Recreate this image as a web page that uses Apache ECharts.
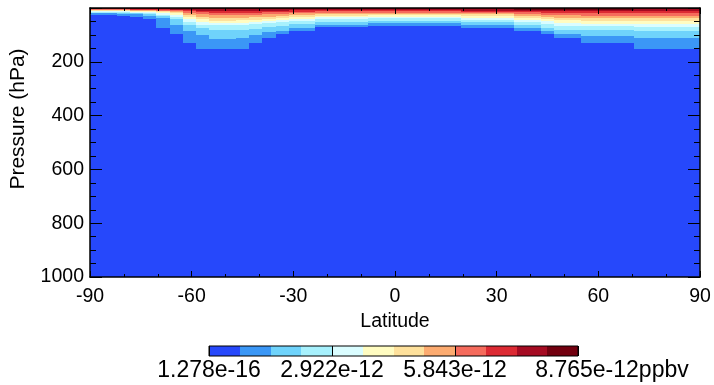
<!DOCTYPE html>
<html><head><meta charset="utf-8">
<script src="https://cdn.jsdelivr.net/npm/echarts@6/dist/echarts.min.js"></script>
<style>html,body{margin:0;padding:0;background:#fff}#c{width:714px;height:385px}</style>
</head><body><div id="c"></div>
<script>
// ---- data ----
const latMin = -90, latMax = 90, nCols = 46;
const pressureMax = 1000;
const levelColors = ['#2648fb','#3b97f6','#6fd3fb','#a7f1fd','#dafdff','#fffcc1','#fee19c','#fcab70','#f56b5c','#dc2a33','#a50b22','#72000f'];
const colorbarLabels = ['1.278e-16','2.922e-12','5.843e-12','8.765e-12ppbv'];
// bottom pressure (hPa) of the region where the field reaches level k, per latitude column
const depth1  = [26,26,30,32,42,73,98,129,152,152,152,152,129,110,98,84,84,72,72,72,72,66,66,66,66,66,66,66,73,73,73,73,85,85,98,110,110,129,129,129,129,152,152,152,152,152];
const depth2  = [20,20,22,24,30,38,63,84,101,116,116,110,101,90,84,73,73,63,63,63,63,57,57,57,57,57,57,57,63,63,63,63,75,75,85,95,95,105,105,105,105,110,110,110,110,110];
const depth3  = [17,17,18,20,24,30,42,63,73,82,82,82,78,70,66,60,60,52,52,52,52,47,47,47,47,47,47,47,53,53,53,53,63,63,73,80,80,82,82,82,82,84,84,84,84,84];
const depth4  = [15,15,15,17,20,26,32,51,63,63,63,63,60,56,53,48,48,42,42,42,42,38,38,38,38,38,38,38,44,44,44,44,53,53,60,66,66,68,68,68,68,69,69,69,69,69];
const depth5  = [13,13,13,14,16,20,26,42,53,55,55,55,52,48,45,40,40,35,35,35,35,32,32,32,32,32,32,32,36,36,36,36,44,44,50,55,55,58,58,58,58,61,61,61,61,61];
const depth6  = [11,11,11,12,13,15,20,32,42,47,47,46,44,40,38,33,33,29,29,29,29,27,27,27,27,27,27,27,30,30,30,30,36,36,41,45,45,47,47,47,47,47,47,47,47,47];
const depth7  = [9,9,9,10,11,12,15,26,32,38,38,37,35,32,30,27,27,24,24,24,24,22,22,22,22,22,22,22,24,24,24,24,29,29,33,36,36,38,38,38,38,38,38,38,38,38];
const depth8  = [7,7,7,8,9,10,12,18,24,26,26,26,25,24,22,20,20,18,18,18,18,17,17,17,17,17,17,17,19,19,19,19,22,22,25,27,27,29,29,29,29,29,29,29,29,29];
const depth9  = [5,5,5,6,6,7,8,12,16,17,17,17,17,16,15,14,14,13,13,13,13,13,13,13,13,13,13,13,14,14,14,14,16,16,18,19,19,20,20,20,20,20,20,20,20,20];
const depth10 = [3,3,3,4,4,5,6,8,10,10,10,10,10,10,10,9,9,9,9,9,9,9,9,9,9,9,9,9,10,10,10,10,11,11,12,12,12,12,12,12,12,11,11,11,11,11];
const depth11 = [2,2,2,2,2,3,3,4,5,5,5,5,5,5,5,5,5,5,5,5,5,5,5,5,5,5,5,5,5,5,5,5,6,6,6,6,6,6,6,6,6,5,5,5,5,5];
const depths = [depth1,depth2,depth3,depth4,depth5,depth6,depth7,depth8,depth9,depth10,depth11];

// ---- build cells ----
const cells = [];
const dLat = (latMax - latMin) / nCols;
for (let i = 0; i < nCols; i++) {
  const x0 = latMin + i * dLat, x1 = latMin + (i + 1) * dLat;
  cells.push([x0, x1, 0, pressureMax, 0]);
  for (let k = 1; k <= depths.length; k++) cells.push([x0, x1, 0, depths[k - 1][i], k]);
}
const barCells = levelColors.map((c, i) => [i, i + 1, 0, 1, i]);

function renderCell(params, api) {
  const a = api.coord([api.value(0), api.value(2)]);
  const b = api.coord([api.value(1), api.value(3)]);
  const x = Math.round(Math.min(a[0], b[0])), x2 = Math.round(Math.max(a[0], b[0]));
  const y = Math.round(Math.min(a[1], b[1])), y2 = Math.round(Math.max(a[1], b[1]));
  return { type: 'rect', shape: { x: x, y: y, width: x2 - x, height: y2 - y },
           style: { fill: levelColors[api.value(4)] } };
}

const FONT = 'Liberation Sans, Arial, sans-serif';
const lineBlack = { color: '#000', width: 1.5 };
function xAx(pos, labels) {
  return {
    gridIndex: 0, type: 'value', position: pos, min: latMin, max: latMax, interval: 30,
    axisLine: { show: true, onZero: false, lineStyle: lineBlack },
    axisTick: { show: true, inside: true, length: 6, lineStyle: { color: '#000', width: 1 } },
    minorTick: { show: true, splitNumber: 3, length: 3, lineStyle: { color: '#000', width: 1 } },
    splitLine: { show: false },
    axisLabel: { show: labels, color: '#000', fontSize: 19.5, fontFamily: FONT, margin: 10, showMinLabel: true, showMaxLabel: true },
    name: labels ? 'Latitude' : '', nameLocation: 'middle', nameGap: 30,
    nameTextStyle: { color: '#000', fontSize: 19.5, fontFamily: FONT },
    z: 5
  };
}
function yAx(pos, labels) {
  return {
    gridIndex: 0, type: 'value', position: pos, min: 0, max: pressureMax, interval: 200, inverse: true,
    axisLine: { show: true, onZero: false, lineStyle: lineBlack },
    axisTick: { show: true, inside: true, length: 12, lineStyle: { color: '#000', width: 1 } },
    minorTick: { show: true, splitNumber: 4, length: 6, lineStyle: { color: '#000', width: 1 } },
    splitLine: { show: false },
    axisLabel: { show: labels, color: '#000', fontSize: 19.5, fontFamily: FONT, margin: 6,
                 formatter: v => v === 0 ? '' : String(v) },
    name: labels ? 'Pressure (hPa)' : '', nameLocation: 'middle', nameGap: 61,
    nameTextStyle: { color: '#000', fontSize: 21, fontFamily: FONT, padding: [0, 0, 0, 47] },
    z: 5
  };
}

const chart = echarts.init(document.getElementById('c'), null, { renderer: 'canvas' });
chart.setOption({
  animation: false,
  backgroundColor: '#fff',
  grid: [
    { left: 86.5, right: 14, top: 8, bottom: 108 },
    { left: 209, width: 369, top: 346, height: 10, show: true, borderColor: '#000', borderWidth: 1, backgroundColor: 'transparent', z: 4 }
  ],
  xAxis: [
    xAx('bottom', true), xAx('top', false),
    { gridIndex: 1, type: 'value', min: 0, max: levelColors.length, interval: 4,
      axisLine: { show: false },
      axisTick: { show: true, inside: true, length: 10, lineStyle: { color: '#000', width: 1 } },
      splitLine: { show: false },
      axisLabel: { color: '#000', fontSize: 23, fontFamily: FONT, margin: 3,
        formatter: v => { const s = colorbarLabels[v / 4]; return v === levelColors.length ? '{last|' + s + '}' : s; },
        rich: { last: { color: '#000', fontSize: 23, fontFamily: FONT, padding: [0, 0, 0, 68] } } },
      z: 5 }
  ],
  yAxis: [
    yAx('left', true), yAx('right', false),
    { gridIndex: 1, type: 'value', min: 0, max: 1, show: false }
  ],
  series: [
    { type: 'custom', xAxisIndex: 0, yAxisIndex: 0, renderItem: renderCell, data: cells, clip: true,
      encode: { x: [0, 1], y: [2, 3] } },
    { type: 'custom', xAxisIndex: 2, yAxisIndex: 2, renderItem: renderCell, data: barCells,
      encode: { x: [0, 1], y: [2, 3] } }
  ]
});
</script></body></html>
